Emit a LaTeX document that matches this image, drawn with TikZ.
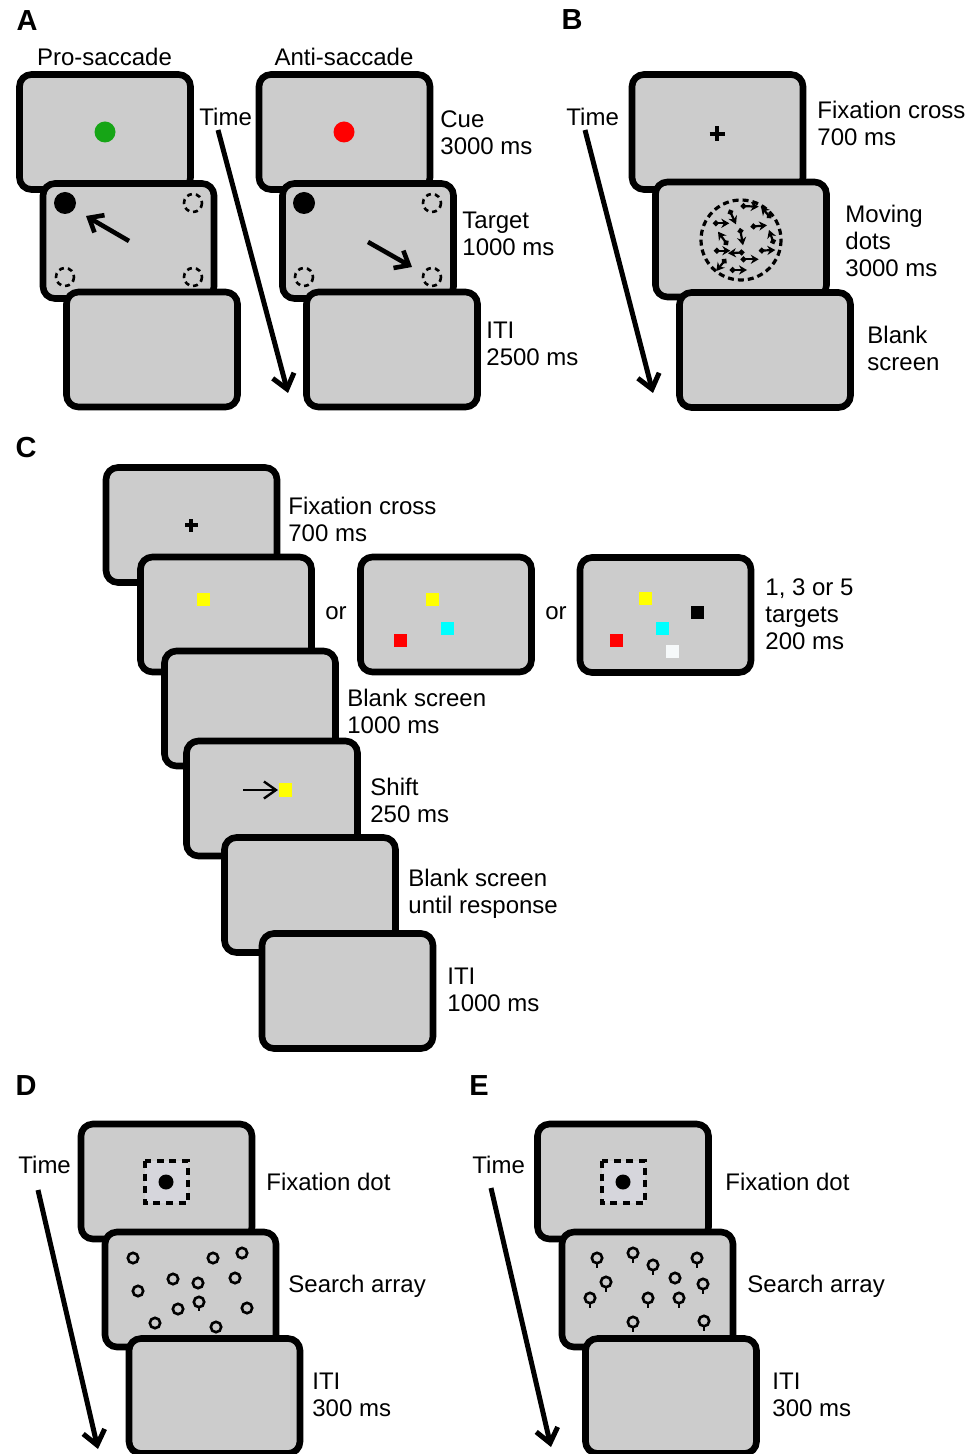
\documentclass[tikz,border=0pt]{standalone}
\usepackage{fontspec}
\setmainfont{Liberation Sans}
\usetikzlibrary{arrows.meta}
\definecolor{scr}{RGB}{204,204,204}
\definecolor{cgreen}{RGB}{22,165,22}
\definecolor{cred}{RGB}{255,0,0}
\definecolor{cyel}{RGB}{255,255,0}
\definecolor{ccyan}{RGB}{0,255,255}
\definecolor{cwhite}{RGB}{246,249,250}
\definecolor{fixfill}{RGB}{214,214,220}
\begin{document}
\begin{tikzpicture}[x=0.5pt,y=-0.5pt,
  screen/.style={draw=black, line width=3.3pt, fill=scr, rounded corners=6pt,
    minimum width=85.5pt, minimum height=57.5pt, inner sep=0pt},
  lbl/.style={anchor=west, align=left, inner sep=0pt, font=\fontsize{12}{13.5}\selectfont},
  ttl/.style={anchor=center, inner sep=0pt, font=\fontsize{12}{13.5}\selectfont},
  panel/.style={anchor=center, inner sep=0pt, font=\fontsize{14.5}{16}\selectfont\bfseries},
  timearrow/.style={line width=2.5pt, -{Straight Barb[length=7pt,width=11pt]}},
  saccarrow/.style={line width=2.3pt, -{Straight Barb[length=6pt,width=10pt]}},
  placeholder/.style={line width=1.3pt, dash pattern=on 2.5pt off 2pt},
  mdot/.style={line width=1.1pt, {Circle[length=2.8pt]}-{Stealth[length=4pt,width=4.6pt]}},
  fixbox/.style={line width=1.6pt, dash pattern=on 3.5pt off 2.8pt, fill=fixfill},
  ring/.style={line width=1.3pt}
]
\useasboundingbox (0,0) rectangle (979,1454);

% ================= Panel A =================
\node[panel] (labA) at (27,21) {A};
\node[ttl] (pro) at (104.5,57) {Pro-saccade};
\node[ttl] (anti) at (344,57) {Anti-saccade};

\node[screen] (a1) at (105,132) {};
\fill[cgreen] (105,132) circle (10.5);
\node[screen] (a2) at (128.5,241) {};
\fill[black] (65,203) circle (11);
\draw[placeholder] (193,203) circle (9);
\draw[placeholder] (65,277) circle (9);
\draw[placeholder] (193,277) circle (9);
\coordinate (pa1) at (129,241);
\coordinate (pa2) at (86,216);
\draw[saccarrow] (pa1) -- (pa2);
\node[screen] (a3) at (152,349.5) {};

\node[screen] (b1) at (344.5,132) {};
\fill[cred] (344,132) circle (10.5);
\node[screen] (b2) at (368,241) {};
\fill[black] (304,203) circle (11);
\draw[placeholder] (432,203) circle (9);
\draw[placeholder] (304,277) circle (9);
\draw[placeholder] (432,277) circle (9);
\coordinate (aa1) at (368,242);
\coordinate (aa2) at (412,267);
\draw[saccarrow] (aa1) -- (aa2);
\node[screen] (b3) at (392,349.5) {};

\node[lbl] (timeA) at (199,117) {Time};
\coordinate (tA1) at (218,130);
\coordinate (tA2) at (288,393);
\draw[timearrow] (tA1) -- (tA2);

\node[lbl] (cue) at (440,132.5) {Cue\\3000 ms};
\node[lbl] (target) at (462,233.5) {Target\\1000 ms};
\node[lbl] (itiA) at (486,343.5) {ITI\\2500 ms};

% ================= Panel B =================
\node[panel] (labB) at (572,20) {B};
\node[lbl] (timeB) at (566,117) {Time};
\coordinate (tB1) at (585,130);
\coordinate (tB2) at (653,393);
\draw[timearrow] (tB1) -- (tB2);

\node[screen] (c1) at (717.5,132) {};
\draw[line width=1.8pt] (709.5,134) -- (724.5,134) (717,126.5) -- (717,141.5);
\node[screen] (c2) at (741,239.5) {};
\draw[line width=1.6pt, dash pattern=on 3pt off 2pt] (741,240) circle (40);
\foreach \a/\b/\c/\d in {740.7/206/758.7/206.7, 771/218/761/207, 729.3/209.7/736/224.3,
  713/223.3/729.3/223.3, 750.7/226.7/767/225.3, 740/228.3/743/245.3,
  727.7/245/718/231.7, 774/244/769/230, 714/250.7/730.3/250.7,
  744.3/252.3/728/253.3, 759/250.7/775.3/250, 740.7/259.3/758.7/259.3,
  726/259/716.3/271, 729.7/270/747/270}
  \draw[mdot] (\a,\b) -- (\c,\d);
\node[screen] (c3) at (765,350) {};

\node[lbl] (fixB) at (817,123) {Fixation cross\\700 ms};
\node[lbl] (movB) at (845,241) {Moving\\dots\\3000 ms};
\node[lbl] (blankB) at (867,348.5) {Blank\\screen};

% ================= Panel C =================
\node[panel] (labC) at (26,448) {C};
\node[screen] (d1) at (191.5,525) {};
\draw[line width=1.6pt] (185,525) -- (197.5,525) (191,519) -- (191,531.5);
\node[screen] (d2) at (226,614.5) {};
\fill[cyel] (197,592.5) rectangle (210,605.5);

\node[screen] (d3) at (446,614.5) {};
\fill[cyel] (425.5,592.5) rectangle (438.5,605.5);
\fill[ccyan] (441,622) rectangle (454,635);
\fill[cred] (394,633.5) rectangle (407,646.5);

\node[screen] (d4) at (665.5,615) {};
\fill[cyel] (639,591.5) rectangle (652,604.5);
\fill[black] (691,605.5) rectangle (704,618.5);
\fill[ccyan] (656,622) rectangle (669,635);
\fill[cred] (610,633.5) rectangle (623,646.5);
\fill[cwhite] (666,644.5) rectangle (679,657.5);

\node[ttl] (or1) at (336,613) {or};
\node[ttl] (or2) at (556,613) {or};

\node[screen] (d5) at (250,708.5) {};
\node[screen] (d6) at (272,798.5) {};
\coordinate (sh1) at (243,790);
\coordinate (sh2) at (278,790);
\draw[line width=1.2pt, -{Straight Barb[length=6pt,width=8.5pt]}] (sh1) -- (sh2);
\fill[cyel] (279,782.5) rectangle (292,796.5);
\node[screen] (d7) at (310,895) {};
\node[screen] (d8) at (347.5,991) {};

\node[lbl] (fixC) at (288,519.5) {Fixation cross\\700 ms};
\node[lbl] (tgtC) at (765,614.5) {1, 3 or 5\\targets\\200 ms};
\node[lbl] (blankC) at (347,711.5) {Blank screen\\1000 ms};
\node[lbl] (shiftC) at (370,800) {Shift\\250 ms};
\node[lbl] (untilC) at (408,893.5) {Blank screen\\until response};
\node[lbl] (itiC) at (447,990) {ITI\\1000 ms};

% ================= Panel D =================
\node[panel] (labD) at (26,1086) {D};
\node[lbl] (timeD) at (18,1165) {Time};
\coordinate (tD1) at (38,1190);
\coordinate (tD2) at (98,1449);
\draw[timearrow] (tD1) -- (tD2);

\node[screen] (e1) at (166.5,1181.5) {};
\draw[fixbox] (145,1161) rectangle (188,1203);
\fill[black] (166,1182) circle (7.5);
\node[screen] (e2) at (190.5,1289.5) {};
\foreach \x/\y in {133/1258, 213/1258, 242/1253, 173/1279, 198/1283, 235/1278,
  138/1291, 178/1309, 247/1308, 155/1323, 216/1327}
  \draw[ring] (\x,\y) circle (5.2);
\draw[ring] (199,1302) circle (5.2);
\draw[ring] (199,1307) -- (199,1311);
\node[screen] (e3) at (214.5,1396) {};

\node[lbl] (fixD) at (266,1182) {Fixation dot};
\node[lbl] (srchD) at (288,1286) {Search array};
\node[lbl] (itiD) at (312,1394.5) {ITI\\300 ms};

% ================= Panel E =================
\node[panel] (labE) at (479,1086) {E};
\node[lbl] (timeE) at (472,1165) {Time};
\coordinate (tE1) at (491,1188);
\coordinate (tE2) at (551,1447);
\draw[timearrow] (tE1) -- (tE2);

\node[screen] (f1) at (623,1181.5) {};
\draw[fixbox] (602,1161) rectangle (645,1203);
\fill[black] (623,1182) circle (7.5);
\node[screen] (f2) at (647.5,1289.5) {};
\foreach \x/\y in {597/1258, 633/1253, 653/1265, 697/1258, 606/1282, 703/1284,
  590/1298, 648/1298, 679/1298, 633/1322, 704/1321}
  {\draw[ring] (\x,\y) circle (5.2);
   \draw[ring] (\x,\y+5) -- (\x,\y+9.5);}
\draw[ring] (675,1278) circle (5.2);
\node[screen] (f3) at (671,1396) {};

\node[lbl] (fixE) at (725,1182) {Fixation dot};
\node[lbl] (srchE) at (747,1286) {Search array};
\node[lbl] (itiE) at (772,1394.5) {ITI\\300 ms};
\end{tikzpicture}
\end{document}
